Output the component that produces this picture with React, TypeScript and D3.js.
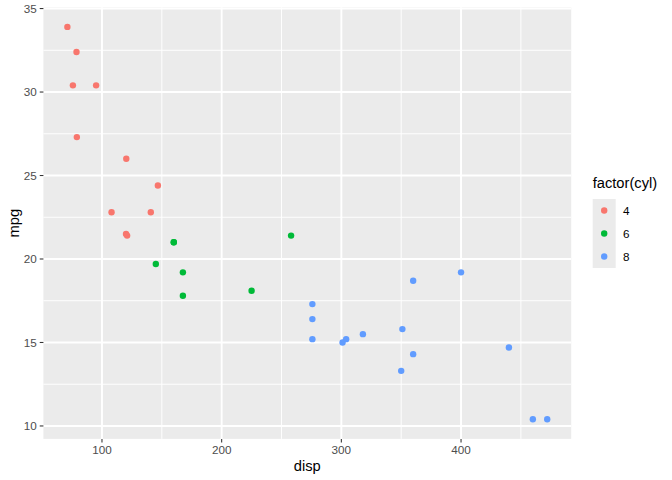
import React from "react";
import * as d3 from "d3";

const disp = [160, 160, 108, 258, 360, 225, 360, 146.7, 140.8, 167.6, 167.6, 275.8, 275.8, 275.8, 472, 460, 440, 78.7, 75.7, 71.1, 120.1, 318, 304, 350, 400, 79, 120.3, 95.1, 351, 145, 301, 121];
const mpg = [21.0, 21.0, 22.8, 21.4, 18.7, 18.1, 14.3, 24.4, 22.8, 19.2, 17.8, 16.4, 17.3, 15.2, 10.4, 10.4, 14.7, 32.4, 30.4, 33.9, 21.5, 15.5, 15.2, 13.3, 19.2, 27.3, 26.0, 30.4, 15.8, 19.7, 15.0, 21.4];
const cyl = [6, 6, 4, 6, 8, 6, 8, 4, 4, 6, 6, 8, 8, 8, 8, 8, 8, 4, 4, 4, 4, 8, 8, 8, 8, 4, 4, 4, 8, 6, 8, 4];
const cylLevels = ["4", "6", "8"];
const cylColors = ["#F8766D", "#00BA38", "#619CFF"];
const xBreaks = [100, 200, 300, 400];
const xMinor = [150, 250, 350, 450];
const yBreaks = [10, 15, 20, 25, 30, 35];
const yMinor = [12.5, 17.5, 22.5, 27.5, 32.5];

const W = 672, H = 480;
const P = { left: 43.4, right: 571.2, top: 7.3, bottom: 438.9 };
const font = "Liberation Sans, Arial, sans-serif";

export default function App() {
  const [x0, x1] = d3.extent(disp) as [number, number];
  const [y0, y1] = d3.extent(mpg) as [number, number];
  const dx = (x1 - x0) * 0.05, dy = (y1 - y0) * 0.05;
  const x = d3.scaleLinear().domain([x0 - dx, x1 + dx]).range([P.left, P.right]);
  const y = d3.scaleLinear().domain([y0 - dy, y1 + dy]).range([P.bottom, P.top]);
  const color = d3.scaleOrdinal<string, string>().domain(cylLevels).range(cylColors);
  const inX = (v: number) => v >= x.domain()[0] && v <= x.domain()[1];
  const inY = (v: number) => v >= y.domain()[0] && v <= y.domain()[1];
  const lgX = 592.7, lgY = 199, key = 23;
  return (
    <svg width={W} height={H} style={{ position: "absolute", left: 0, top: 0 }} xmlns="http://www.w3.org/2000/svg">
      <rect x={0} y={0} width={W} height={H} fill="#fff" />
      <rect x={P.left} y={P.top} width={P.right - P.left} height={P.bottom - P.top} fill="#EBEBEB" />
      {yMinor.filter(inY).map((v) => (
        <line key={"ym" + v} x1={P.left} x2={P.right} y1={y(v)} y2={y(v)} stroke="#fff" strokeWidth={0.95} />
      ))}
      {xMinor.filter(inX).map((v) => (
        <line key={"xm" + v} y1={P.top} y2={P.bottom} x1={x(v)} x2={x(v)} stroke="#fff" strokeWidth={0.95} />
      ))}
      {yBreaks.filter(inY).map((v) => (
        <line key={"y" + v} x1={P.left} x2={P.right} y1={y(v)} y2={y(v)} stroke="#fff" strokeWidth={1.9} />
      ))}
      {xBreaks.filter(inX).map((v) => (
        <line key={"x" + v} y1={P.top} y2={P.bottom} x1={x(v)} x2={x(v)} stroke="#fff" strokeWidth={1.9} />
      ))}
      {disp.map((d, i) => (
        <circle key={i} cx={x(d)} cy={y(mpg[i])} r={3.2} fill={color(String(cyl[i]))} />
      ))}
      {yBreaks.filter(inY).map((v) => (
        <g key={"yt" + v}>
          <line x1={P.left - 3.67} x2={P.left} y1={y(v)} y2={y(v)} stroke="#333" strokeWidth={1.07} />
          <text x={P.left - 6.6} y={y(v)} dy="0.35em" textAnchor="end" fontFamily={font} fontSize={11.7} fill="#4D4D4D">{v}</text>
        </g>
      ))}
      {xBreaks.filter(inX).map((v) => (
        <g key={"xt" + v}>
          <line x1={x(v)} x2={x(v)} y1={P.bottom} y2={P.bottom + 3.67} stroke="#333" strokeWidth={1.07} />
          <text x={x(v)} y={P.bottom + 15.5} textAnchor="middle" fontFamily={font} fontSize={11.7} fill="#4D4D4D">{v}</text>
        </g>
      ))}
      <text x={(P.left + P.right) / 2} y={471} textAnchor="middle" fontFamily={font} fontSize={14.7} fill="#000">disp</text>
      <text transform={`translate(19,${(P.top + P.bottom) / 2}) rotate(-90)`} textAnchor="middle" fontFamily={font} fontSize={14.7} fill="#000">mpg</text>
      <text x={lgX} y={188} fontFamily={font} fontSize={14.7} fill="#000">factor(cyl)</text>
      {cylLevels.map((c, i) => (
        <g key={"lg" + c}>
          <rect x={lgX} y={lgY + i * key} width={key} height={key} fill="#EBEBEB" />
          <circle cx={lgX + key / 2} cy={lgY + i * key + key / 2} r={3.2} fill={color(c)} />
          <text x={lgX + key + 7.3} y={lgY + i * key + key / 2} dy="0.35em" fontFamily={font} fontSize={11.7} fill="#000">{c}</text>
        </g>
      ))}
    </svg>
  );
}
